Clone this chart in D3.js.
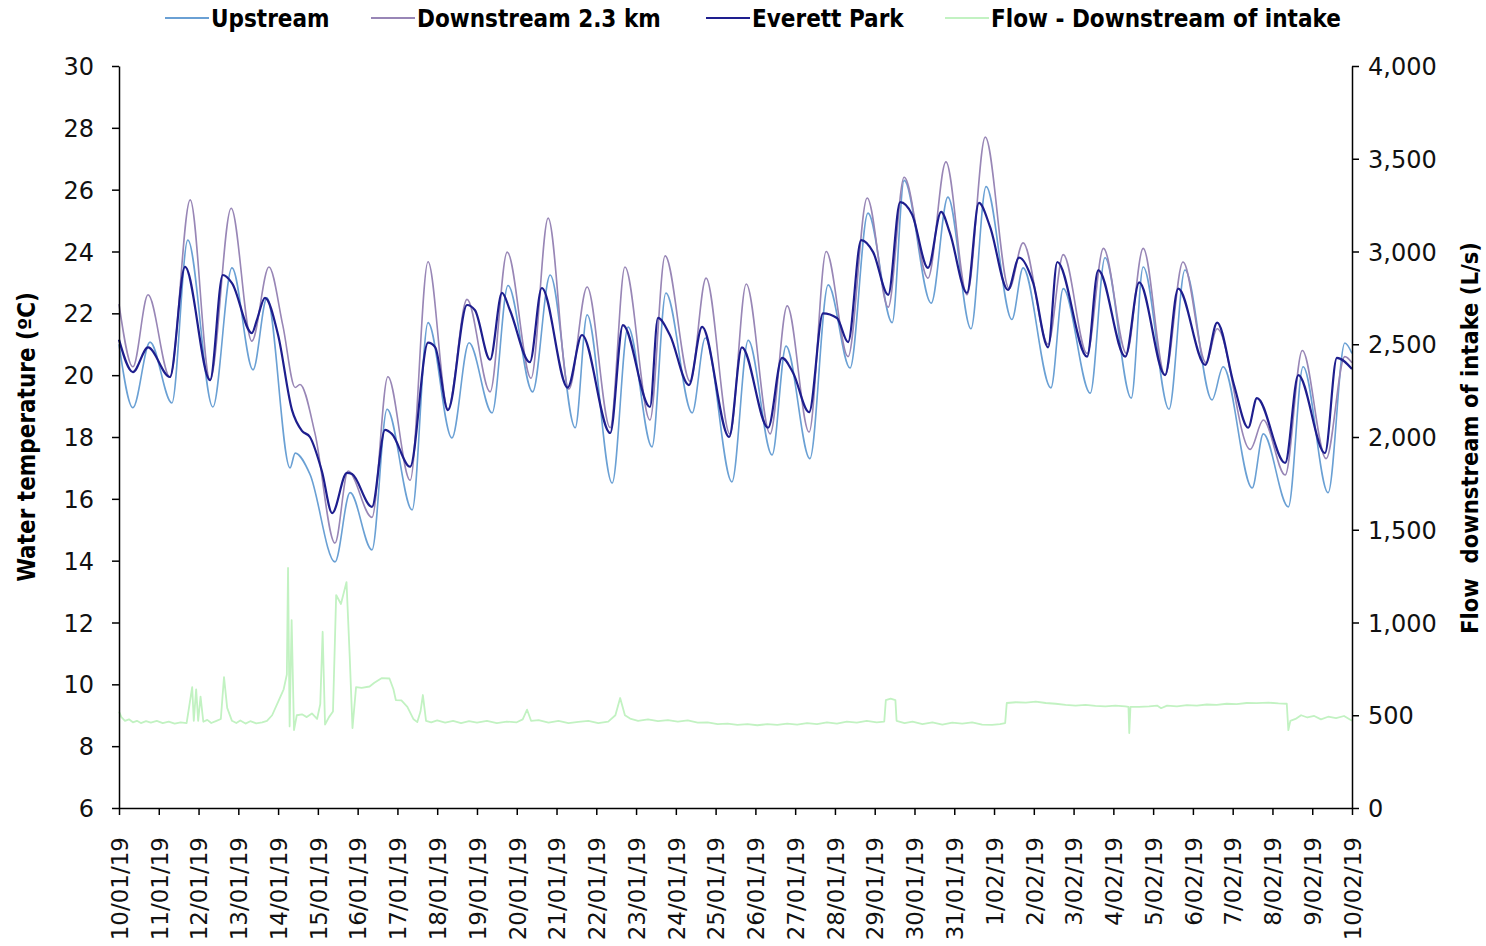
<!DOCTYPE html>
<html>
<head>
<meta charset="utf-8">
<script src="https://cdn.jsdelivr.net/npm/d3@7/dist/d3.min.js"></script>
<style>
  html, body { margin: 0; padding: 0; background: #fff; }
  svg { display: block; }
  .tick text { font-family: "DejaVu Sans", Verdana, sans-serif; font-size: 24px; fill: #111; }
  .x-axis .tick text { font-size: 23px; }
  .axis path, .axis line { stroke: #000; stroke-width: 1.5px; }
  .title, .legend text { font-family: "DejaVu Sans Condensed", "DejaVu Sans", sans-serif; font-stretch: condensed; font-weight: bold; fill: #000; }
</style>
</head>
<body>
<svg id="chart" width="1486" height="946"></svg>
<script>
// Series: [days after 10/01/19 00:00, value]
const upstreamTemp = [
  [0.00, 21.0], [0.35, 18.95], [0.78, 21.07], [1.33, 19.1], [1.73, 24.37], [2.36, 18.97],
  [2.84, 23.47], [3.37, 20.17], [3.72, 22.5], [4.30, 17.0], [4.43, 17.48], [4.80, 16.8],
  [5.43, 13.96], [5.81, 16.2], [6.36, 14.35], [6.74, 18.9], [7.37, 15.64], [7.77, 21.7],
  [8.37, 17.97], [8.80, 21.05], [9.38, 18.78], [9.78, 22.9], [10.40, 19.46], [10.84, 23.24],
  [11.47, 18.3], [11.77, 21.95], [12.40, 16.51], [12.80, 21.56], [13.40, 17.68], [13.75, 22.66],
  [14.41, 18.78], [14.74, 21.2], [15.41, 16.55], [15.82, 21.13], [16.42, 17.42], [16.77, 20.94],
  [17.37, 17.3], [17.83, 22.92], [18.38, 20.23], [18.83, 25.24], [19.44, 21.7], [19.74, 26.3],
  [20.42, 22.33], [20.84, 25.76], [21.42, 21.5], [21.80, 26.1], [22.45, 21.8], [22.73, 23.47],
  [23.43, 19.59], [23.74, 22.8], [24.42, 19.42], [24.79, 23.8], [25.45, 19.26], [25.75, 23.5],
  [26.40, 18.9], [26.80, 23.4], [27.48, 19.2], [27.76, 20.27], [28.49, 16.35], [28.77, 18.1],
  [29.40, 15.74], [29.77, 20.27], [30.40, 16.2], [30.82, 21.04], [31.00, 20.7]
];
const downstreamTemp = [
  [0.00, 22.3], [0.35, 20.27], [0.73, 22.6], [1.28, 19.94], [1.79, 25.67], [2.29, 19.84],
  [2.82, 25.4], [3.34, 21.1], [3.77, 23.5], [4.12, 21.6], [4.43, 19.6], [4.55, 19.7],
  [4.93, 18.1], [5.43, 14.57], [5.76, 16.9], [6.36, 15.4], [6.76, 19.95], [7.32, 16.6],
  [7.77, 23.67], [8.27, 18.9], [8.75, 22.45], [9.33, 19.46], [9.76, 23.98], [10.36, 19.9],
  [10.79, 25.08], [11.31, 19.55], [11.77, 22.85], [12.35, 18.3], [12.72, 23.5], [13.35, 18.55],
  [13.73, 23.86], [14.36, 19.8], [14.76, 23.14], [15.36, 18.1], [15.77, 22.95], [16.37, 18.1],
  [16.80, 22.24], [17.35, 18.16], [17.78, 24.0], [18.33, 20.6], [18.81, 25.73], [19.34, 22.2],
  [19.74, 26.4], [20.34, 23.14], [20.79, 26.9], [21.32, 22.6], [21.78, 27.7], [22.38, 22.8],
  [22.73, 24.28], [23.36, 21.0], [23.74, 23.9], [24.34, 20.7], [24.75, 24.1], [25.33, 20.7],
  [25.75, 24.1], [26.30, 20.0], [26.75, 23.66], [27.33, 20.4], [27.61, 21.5], [28.44, 17.6],
  [28.77, 18.55], [29.32, 16.77], [29.75, 20.8], [30.35, 17.3], [30.82, 20.6], [31.00, 20.4]
];
const everettTemp = [
  [0.00, 21.15], [0.35, 20.1], [0.73, 20.9], [1.28, 19.94], [1.66, 23.5], [2.29, 19.84],
  [2.61, 23.24], [2.84, 22.98], [3.34, 21.36], [3.47, 21.8], [3.67, 22.5], [4.00, 21.3],
  [4.35, 18.87], [4.60, 18.2], [4.80, 18.0], [5.10, 16.9], [5.36, 15.54], [5.73, 16.84],
  [5.86, 16.8], [6.36, 15.74], [6.69, 18.23], [6.86, 18.1], [7.32, 17.04], [7.77, 21.05],
  [7.95, 20.9], [8.27, 18.87], [8.75, 22.27], [8.95, 22.1], [9.33, 20.5], [9.63, 22.66],
  [9.83, 22.1], [10.33, 20.42], [10.63, 22.82], [11.28, 19.6], [11.64, 21.3], [12.35, 18.13],
  [12.67, 21.62], [13.35, 18.97], [13.55, 21.85], [13.85, 21.3], [14.33, 19.68], [14.66, 21.56],
  [15.34, 18.0], [15.66, 20.9], [16.32, 18.3], [16.67, 20.56], [16.95, 20.07], [17.35, 18.8],
  [17.70, 22.0], [18.05, 21.85], [18.33, 21.07], [18.66, 24.37], [18.96, 23.98], [19.34, 22.6],
  [19.64, 25.6], [19.94, 25.2], [20.34, 23.47], [20.67, 25.28], [20.89, 24.6], [21.32, 22.66],
  [21.62, 25.57], [21.90, 24.8], [22.35, 22.76], [22.63, 23.8], [22.98, 23.0], [23.36, 20.9],
  [23.59, 23.66], [24.34, 20.6], [24.62, 23.4], [25.30, 20.6], [25.65, 23.0], [26.30, 20.0],
  [26.63, 22.8], [27.31, 20.33], [27.61, 21.7], [28.03, 19.7], [28.39, 18.3], [28.61, 19.26],
  [29.32, 17.16], [29.65, 20.0], [30.32, 17.48], [30.62, 20.56], [31.00, 20.2]
];
const flowIntake = [
  [0.00, 520], [0.06, 490], [0.15, 470], [0.25, 478], [0.35, 462], [0.45, 470], [0.55, 458],
  [0.68, 468], [0.80, 460], [0.95, 470], [1.10, 458], [1.25, 466], [1.40, 455], [1.55, 462],
  [1.70, 458], [1.84, 652], [1.88, 470], [1.94, 640], [1.99, 470], [2.05, 600], [2.12, 465],
  [2.22, 475], [2.32, 458], [2.45, 470], [2.56, 480], [2.64, 706], [2.72, 540], [2.84, 470],
  [2.95, 458], [3.05, 472], [3.18, 455], [3.30, 468], [3.45, 456], [3.60, 462], [3.72, 470],
  [3.85, 500], [4.02, 582], [4.14, 640], [4.22, 720], [4.25, 1294], [4.29, 440], [4.34, 1013],
  [4.40, 420], [4.47, 500], [4.60, 505], [4.72, 490], [4.85, 510], [4.98, 480], [5.06, 560],
  [5.12, 950], [5.18, 450], [5.28, 490], [5.38, 520], [5.46, 1148], [5.58, 1100], [5.72, 1218],
  [5.80, 820], [5.87, 431], [5.96, 652], [6.10, 648], [6.30, 655], [6.42, 675], [6.60, 700],
  [6.80, 698], [6.90, 640], [6.96, 582], [7.10, 580], [7.25, 545], [7.40, 480], [7.50, 463],
  [7.58, 520], [7.64, 609], [7.72, 470], [7.85, 462], [8.00, 472], [8.20, 460], [8.40, 470],
  [8.60, 458], [8.80, 468], [9.00, 460], [9.25, 470], [9.50, 458], [9.75, 466], [10.00, 462],
  [10.15, 478], [10.26, 530], [10.36, 470], [10.55, 474], [10.80, 460], [11.05, 470], [11.30, 458],
  [11.55, 464], [11.80, 470], [12.05, 458], [12.30, 466], [12.48, 500], [12.60, 593], [12.72, 500],
  [12.85, 482], [13.05, 470], [13.30, 478], [13.55, 468], [13.80, 474], [14.05, 466], [14.30, 472],
  [14.55, 460], [14.80, 462], [15.05, 452], [15.30, 455], [15.55, 448], [15.80, 452], [16.05, 446],
  [16.30, 452], [16.55, 448], [16.80, 455], [17.05, 450], [17.30, 458], [17.55, 452], [17.80, 462],
  [18.05, 455], [18.30, 466], [18.55, 460], [18.80, 470], [19.05, 462], [19.24, 466], [19.28, 582],
  [19.40, 590], [19.52, 582], [19.55, 470], [19.75, 458], [19.95, 466], [20.20, 452], [20.45, 462],
  [20.70, 450], [20.95, 460], [21.20, 455], [21.45, 462], [21.70, 450], [21.95, 448], [22.15, 452],
  [22.28, 458], [22.32, 566], [22.55, 570], [22.80, 568], [23.05, 574], [23.30, 566], [23.55, 562],
  [23.80, 556], [24.05, 552], [24.30, 556], [24.55, 550], [24.80, 548], [25.05, 552], [25.30, 548],
  [25.38, 545], [25.40, 404], [25.43, 545], [25.65, 545], [25.90, 548], [26.10, 552], [26.20, 538],
  [26.35, 552], [26.60, 548], [26.85, 555], [27.10, 552], [27.35, 558], [27.60, 556], [27.85, 562],
  [28.10, 560], [28.35, 566], [28.60, 565], [28.90, 568], [29.15, 564], [29.36, 562], [29.40, 420],
  [29.45, 470], [29.58, 480], [29.72, 500], [29.88, 488], [30.05, 496], [30.22, 478], [30.40, 492],
  [30.60, 484], [30.80, 496], [31.00, 470]
];

const seriesNames = ["Upstream", "Downstream 2.3 km", "Everett Park", "Flow - Downstream of intake"];
const seriesColors = ["#6aa0d4", "#9886b6", "#1e1e8e", "#c2f2c2"];
const tempTicks = [6, 8, 10, 12, 14, 16, 18, 20, 22, 24, 26, 28, 30];
const flowTicks = [0, 500, 1000, 1500, 2000, 2500, 3000, 3500, 4000];
const startDate = new Date(2019, 0, 10);
const endDate = new Date(2019, 1, 10);

const svg = d3.select("#chart");
const plotLeft = 119, plotRight = 1352, plotTop = 66, plotBottom = 808;

const x = d3.scaleTime().domain([startDate, endDate]).range([plotLeft, plotRight]);
const yT = d3.scaleLinear().domain([6, 30]).range([plotBottom, plotTop]);
const yF = d3.scaleLinear().domain([0, 4000]).range([plotBottom, plotTop]);
const toDate = d => new Date(startDate.getTime() + d * 864e5);

const dayTicks = d3.timeDay.range(startDate, d3.timeDay.offset(endDate, 1));
const fmtDay = d3.timeFormat("%-d/%m/%y");

// Flow trace underneath the temperature traces
const flowLine = d3.line().x(d => x(toDate(d[0]))).y(d => yF(d[1]));
svg.append("path").datum(flowIntake)
  .attr("d", flowLine).attr("fill", "none")
  .attr("stroke", seriesColors[3]).attr("stroke-width", 1.8).attr("stroke-linejoin", "round");

const tempLine = d3.line().curve(d3.curveMonotoneX)
  .x(d => x(toDate(d[0]))).y(d => yT(d[1]));
[[upstreamTemp, 0, 1.6], [downstreamTemp, 1, 1.6], [everettTemp, 2, 2.2]].forEach(([data, i, w]) => {
  svg.append("path").datum(data)
    .attr("d", tempLine).attr("fill", "none")
    .attr("stroke", seriesColors[i]).attr("stroke-width", w).attr("stroke-linejoin", "round");
});

// Axes
svg.append("g").attr("class", "axis").attr("transform", `translate(${plotLeft},0)`)
  .call(d3.axisLeft(yT).tickValues(tempTicks).tickSize(7).tickSizeOuter(0).tickPadding(18))
  .selectAll(".tick text").attr("dy", "0.36em");

svg.append("g").attr("class", "axis").attr("transform", `translate(${plotRight},0)`)
  .call(d3.axisRight(yF).tickValues(flowTicks).tickFormat(d3.format(",")).tickSize(7).tickSizeOuter(0).tickPadding(9))
  .selectAll(".tick text").attr("dy", "0.36em");

const xAxis = svg.append("g").attr("class", "axis x-axis").attr("transform", `translate(0,${plotBottom})`)
  .call(d3.axisBottom(x).tickValues(dayTicks).tickFormat(fmtDay).tickSize(7).tickSizeOuter(0));
xAxis.selectAll(".tick text")
  .attr("transform", "rotate(-90)")
  .attr("text-anchor", "end")
  .attr("x", -29).attr("y", 0).attr("dy", "0.36em");

// Axis titles
svg.append("text").attr("class", "title")
  .attr("transform", `translate(35,${(plotTop + plotBottom) / 2}) rotate(-90)`)
  .attr("text-anchor", "middle").attr("font-size", 24)
  .text("Water temperature (ºC)");
svg.append("text").attr("class", "title")
  .attr("transform", `translate(1478,${(plotTop + plotBottom) / 2 + 1}) rotate(-90)`)
  .attr("text-anchor", "middle").attr("font-size", 23.5)
  .style("white-space", "pre")
  .text("Flow  downstream of intake (L/s)");

// Legend
const legendX = [165, 371, 706, 945];
const legend = svg.append("g").attr("class", "legend");
seriesNames.forEach((name, i) => {
  const g = legend.append("g").attr("transform", `translate(${legendX[i]},18)`);
  g.append("line").attr("x1", 0).attr("x2", 44).attr("y1", 0).attr("y2", 0)
    .attr("stroke", seriesColors[i]).attr("stroke-width", 2);
  g.append("text").attr("x", 46).attr("y", 9).attr("font-size", 24).text(name);
});
</script>
</body>
</html>
